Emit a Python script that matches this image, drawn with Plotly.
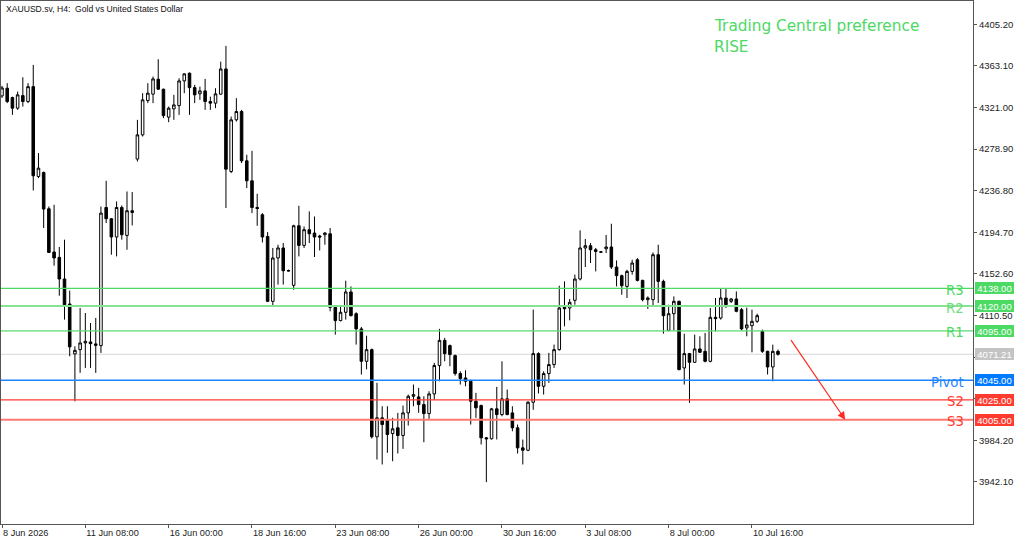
import plotly.graph_objects as go

# ---------------- data ----------------
TITLE = "XAUUSD.sv, H4:  Gold vs United States Dollar"
OPEN = [4332.7, 4340.5, 4331.0, 4320.3, 4333.0, 4327.0, 4342.1, 4251.2, 4255.2, 4218.5,
        4174.7, 4169.3, 4147.4, 4122.1, 4071.6, 4075.9, 4082.7, 4083.7, 4081.7, 4080.0,
        4219.8, 4208.4, 4189.9, 4219.8, 4191.5, 4216.5, 4268.8, 4293.3, 4328.0, 4334.5,
        4349.6, 4339.5, 4311.2, 4319.6, 4322.9, 4347.9, 4355.7, 4341.1, 4334.8, 4337.8,
        4327.0, 4325.4, 4334.5, 4360.0, 4256.2, 4308.5, 4316.9, 4267.0, 4246.8, 4219.8,
        4212.4, 4190.5, 4124.8, 4168.7, 4178.8, 4155.9, 4141.0, 4201.3, 4181.4, 4197.3,
        4193.9, 4190.9, 4192.2, 4193.2, 4118.7, 4105.3, 4113.7, 4134.3, 4112.3, 4096.9,
        4064.1, 4075.9, 3987.7, 4006.9, 4005.2, 3991.0, 3996.8, 3989.0, 4011.9, 4028.7,
        4028.1, 4020.3, 4011.2, 4031.1, 4059.8, 4085.3, 4080.0, 4069.9, 4051.7, 4047.3,
        4043.9, 4023.7, 4019.3, 3986.7, 3985.7, 4016.0, 4010.2, 4026.1, 4011.9, 3996.8,
        3976.5, 3974.1, 4022.7, 4071.9, 4038.8, 4051.7, 4060.8, 4075.9, 4118.7, 4118.1,
        4125.8, 4147.4, 4178.8, 4181.1, 4177.0, 4174.9, 4178.0, 4179.8, 4159.5, 4150.8,
        4139.9, 4155.1, 4166.9, 4146.0, 4126.5, 4126.5, 4172.0, 4145.0, 4095.4, 4112.3,
        4124.8, 4057.4, 4071.9, 4063.1, 4076.6, 4074.2, 4064.1, 4108.6, 4107.9, 4128.2,
        4124.8, 4127.2, 4116.4, 4097.9, 4100.2, 4104.6, 4094.4, 4074.2, 4058.4, 4074.2]
HIGH = [4342.9, 4345.6, 4332.0, 4337.1, 4351.6, 4345.6, 4364.1, 4274.8, 4256.2, 4220.8,
        4222.5, 4179.8, 4187.2, 4135.6, 4079.3, 4118.1, 4113.0, 4102.9, 4108.0, 4220.8,
        4246.8, 4209.1, 4225.9, 4221.8, 4236.0, 4235.4, 4308.5, 4335.5, 4345.6, 4352.3,
        4369.8, 4340.0, 4321.9, 4333.8, 4350.6, 4355.7, 4356.4, 4343.9, 4342.1, 4349.9,
        4332.0, 4340.5, 4367.4, 4383.3, 4311.8, 4330.4, 4318.6, 4273.1, 4277.1, 4233.7,
        4214.1, 4194.9, 4178.8, 4182.1, 4183.8, 4157.0, 4202.3, 4221.5, 4200.6, 4215.8,
        4210.7, 4192.2, 4194.9, 4199.0, 4119.7, 4119.7, 4145.7, 4139.9, 4113.7, 4098.9,
        4090.0, 4077.0, 4042.3, 4018.6, 4018.6, 4006.9, 4011.9, 4019.3, 4030.4, 4040.6,
        4037.2, 4028.7, 4033.8, 4062.5, 4096.9, 4087.8, 4081.0, 4070.9, 4054.0, 4055.0,
        4045.6, 4032.2, 4020.3, 3987.5, 4017.0, 4038.2, 4064.1, 4035.5, 4018.6, 4000.1,
        3984.9, 4023.7, 4116.4, 4073.2, 4054.0, 4072.6, 4081.0, 4140.6, 4145.0, 4127.2,
        4151.8, 4196.6, 4187.9, 4183.8, 4178.8, 4175.2, 4192.0, 4203.3, 4166.2, 4151.8,
        4156.8, 4166.9, 4168.6, 4146.7, 4129.8, 4174.3, 4182.1, 4146.7, 4121.4, 4129.8,
        4125.5, 4092.1, 4072.6, 4091.1, 4089.4, 4092.8, 4118.1, 4128.2, 4138.3, 4138.3,
        4128.2, 4134.9, 4118.1, 4118.4, 4116.4, 4112.3, 4096.2, 4074.8, 4081.0, 4076.0]
LOW = [4330.7, 4325.4, 4313.5, 4318.6, 4321.9, 4325.4, 4237.0, 4249.5, 4199.0, 4173.7,
       4160.9, 4130.5, 4106.3, 4069.2, 4023.7, 4052.4, 4057.4, 4057.4, 4052.4, 4072.6,
       4204.0, 4172.0, 4170.3, 4187.2, 4177.0, 4201.6, 4266.3, 4291.6, 4325.4, 4325.4,
       4338.8, 4310.2, 4306.1, 4308.5, 4313.5, 4335.5, 4313.5, 4325.4, 4328.7, 4318.6,
       4318.6, 4320.3, 4333.8, 4219.2, 4254.6, 4306.8, 4264.7, 4239.4, 4214.1, 4201.3,
       4184.4, 4124.0, 4120.7, 4141.7, 4141.7, 4155.0, 4136.6, 4170.3, 4178.8, 4183.8,
       4169.7, 4176.3, 4182.1, 4114.7, 4091.1, 4104.6, 4106.3, 4109.6, 4081.0, 4050.7,
       4056.0, 3986.0, 3964.7, 3959.7, 3971.5, 3963.0, 3970.8, 3975.5, 3999.1, 4018.6,
       4011.9, 3982.2, 4005.9, 4025.4, 4043.9, 4064.1, 4059.1, 4049.6, 4040.6, 4038.8,
       4000.1, 4006.9, 3979.9, 3941.8, 3985.0, 3985.0, 4008.5, 4009.5, 3993.3, 3970.8,
       3959.7, 3973.1, 4015.0, 4031.5, 4030.4, 4042.3, 4057.4, 4075.0, 4099.5, 4105.6,
       4121.4, 4146.0, 4159.5, 4163.6, 4155.1, 4174.3, 4173.7, 4157.5, 4139.9, 4131.5,
       4128.2, 4151.8, 4145.0, 4124.8, 4117.1, 4119.7, 4123.1, 4092.1, 4094.5, 4095.4,
       4055.0, 4040.6, 4022.0, 4062.5, 4072.6, 4063.1, 4063.1, 4094.4, 4106.3, 4118.1,
       4123.1, 4113.7, 4095.4, 4089.4, 4073.2, 4103.0, 4072.6, 4050.7, 4043.9, 4069.9]
CLOSE = [4340.8, 4327.0, 4320.3, 4333.8, 4327.0, 4342.1, 4251.9, 4259.6, 4218.2, 4174.3,
         4168.7, 4147.4, 4121.4, 4078.7, 4075.2, 4082.7, 4084.3, 4082.0, 4080.3, 4214.1,
         4208.4, 4189.9, 4219.8, 4192.2, 4216.5, 4214.8, 4293.3, 4328.7, 4335.5, 4349.9,
         4339.5, 4312.8, 4320.3, 4323.6, 4347.9, 4355.0, 4341.1, 4333.8, 4337.8, 4327.0,
         4325.4, 4334.8, 4360.0, 4258.6, 4308.5, 4316.9, 4267.0, 4246.8, 4219.8, 4218.8,
         4189.9, 4124.8, 4168.7, 4178.8, 4155.8, 4155.6, 4201.3, 4181.4, 4197.3, 4193.2,
         4189.9, 4189.9, 4193.9, 4118.7, 4105.3, 4113.7, 4134.3, 4110.3, 4096.9, 4064.1,
         4075.9, 3987.7, 4006.9, 4000.1, 3990.0, 3995.8, 3989.0, 4011.9, 4028.7, 4030.4,
         4020.3, 4011.2, 4031.1, 4059.8, 4085.3, 4071.9, 4070.9, 4051.7, 4046.6, 4043.9,
         4023.7, 4017.0, 3986.7, 3985.7, 4016.0, 4010.2, 4026.1, 4010.2, 3996.8, 3976.5,
         3974.1, 4022.7, 4071.9, 4038.8, 4051.7, 4060.8, 4075.9, 4118.1, 4117.4, 4123.8,
         4147.4, 4178.8, 4181.1, 4177.0, 4175.3, 4174.6, 4179.8, 4159.5, 4150.8, 4140.6,
         4155.1, 4163.6, 4146.0, 4126.5, 4128.2, 4172.0, 4145.0, 4110.3, 4112.3, 4124.8,
         4055.7, 4071.9, 4063.1, 4076.6, 4073.2, 4064.1, 4108.6, 4107.3, 4128.2, 4121.4,
         4127.2, 4114.7, 4096.9, 4100.9, 4104.6, 4110.3, 4074.2, 4058.4, 4074.2, 4071.21]
BAR_INDEX = list(range(len(OPEN)))

X_TICK_INDEX = [0, 16, 32, 48, 64, 80, 96, 112, 128, 144]
X_TICK_LABELS = ["8 Jun 2026", "11 Jun 08:00", "16 Jun 00:00", "18 Jun 16:00", "23 Jun 08:00",
                 "26 Jun 00:00", "30 Jun 16:00", "3 Jul 08:00", "8 Jul 00:00", "10 Jul 16:00"]
Y_TICKS = [4405.20, 4363.10, 4321.00, 4278.90, 4236.80, 4194.70, 4152.60, 4110.50,
           4068.40, 4026.30, 3984.20, 3942.10]
# tick labels covered by the price tags in the reference are left blank
Y_TICK_LABELS = ["4405.20", "4363.10", "4321.00", "4278.90", "4236.80", "4194.70", "4152.60",
                 "4110.50", "", "", "3984.20", "3942.10"]

LEVEL_NAMES = ["R3", "R2", "R1", "Pivot", "S2", "S3"]
LEVEL_VALUES = [4138.00, 4120.00, 4095.00, 4045.00, 4025.00, 4005.00]
LAST_PRICE = 4071.21

PREFERENCE_TITLE = "Trading Central preference"
PREFERENCE = "RISE"
ARROW_FROM = (151.3, 4087.0)
ARROW_TO = (161.9, 4005.0)

# ---------------- styles ----------------
LEVEL_LINE_COLORS = ["#4CD964", "#86E392", "#5BDA70", "#1E84FF", "#FF3B30", "#FF7A72"]
LEVEL_LINE_WIDTHS = [1.3, 2, 1.3, 1.5, 1.3, 2]
LEVEL_TEXT_COLORS = ["#4CD964", "#6EDB7E", "#4CD964", "#1E84FF", "#FF3B30", "#FF3B30"]
LEVEL_TAG_COLORS = ["#4CD964", "#4CD964", "#4CD964", "#007AFF", "#FF3B30", "#FF3B30"]

PLOT_L, PLOT_R, PLOT_T, PLOT_B = 1, 973, 1, 524.5
W, H = 1024, 543
X_RANGE = [-0.192, 186.44]
Y_RANGE = [3899.45, 4428.76]

fig = go.Figure()
fig.add_trace(go.Candlestick(
    x=BAR_INDEX, open=OPEN, high=HIGH, low=LOW, close=CLOSE,
    increasing=dict(fillcolor="#FFFFFF", line=dict(color="#000000", width=1)),
    decreasing=dict(fillcolor="#000000", line=dict(color="#000000", width=1)),
    whiskerwidth=0, showlegend=False, hoverinfo="skip",
))

# level lines
for name, val, lc, lw in zip(LEVEL_NAMES, LEVEL_VALUES, LEVEL_LINE_COLORS, LEVEL_LINE_WIDTHS):
    fig.add_shape(type="line", xref="paper", x0=0, x1=1, yref="y", y0=val, y1=val,
                  line=dict(color=lc, width=lw), layer="above")
fig.add_shape(type="line", xref="paper", x0=0, x1=1, yref="y", y0=LAST_PRICE, y1=LAST_PRICE,
              line=dict(color="#D6D6D6", width=1), layer="below")

pw = PLOT_R - PLOT_L
ph = PLOT_B - PLOT_T
def px_x(px):
    return (px - PLOT_L) / pw
def px_y(py):
    return (PLOT_B - py) / ph

ann = []
for name, val, tc, tag in zip(LEVEL_NAMES, LEVEL_VALUES, LEVEL_TEXT_COLORS, LEVEL_TAG_COLORS):
    ann.append(dict(text=name, xref="paper", x=px_x(966), xanchor="right", yref="y", y=val,
                    yanchor="middle", yshift=-2, showarrow=False,
                    font=dict(family="DejaVu Sans", size=13.3, color=tc)))
    ann.append(dict(text=f"{val:.2f}", xref="paper", x=px_x(975), xanchor="left", yref="y", y=val,
                    yanchor="middle", showarrow=False, bgcolor=tag, width=39, height=12,
                    borderpad=0, borderwidth=0,
                    font=dict(family="Liberation Sans", size=9.5, color="#FFFFFF")))
ann.append(dict(text=f"{LAST_PRICE:.2f}", xref="paper", x=px_x(975), xanchor="left", yref="y",
                y=LAST_PRICE, yanchor="middle", showarrow=False, bgcolor="#C4C4C4", width=39,
                height=12, borderpad=0, borderwidth=0,
                font=dict(family="Liberation Sans", size=9.5, color="#FFFFFF")))
ann.append(dict(text=TITLE, xref="paper", x=px_x(4), xanchor="left", yref="paper", y=px_y(9),
                yanchor="middle", showarrow=False,
                font=dict(family="Liberation Sans", size=8.6, color="#111111")))
ann.append(dict(text=PREFERENCE_TITLE, xref="paper", x=px_x(712), xanchor="left", yref="paper",
                y=px_y(26), yanchor="middle", showarrow=False,
                font=dict(family="DejaVu Sans", size=15.3, color="#4CD964")))
ann.append(dict(text=PREFERENCE, xref="paper", x=px_x(712), xanchor="left", yref="paper",
                y=px_y(47), yanchor="middle", showarrow=False,
                font=dict(family="DejaVu Sans", size=15.3, color="#4CD964")))
ann.append(dict(text="", x=ARROW_TO[0], y=ARROW_TO[1], xref="x", yref="y",
                ax=ARROW_FROM[0], ay=ARROW_FROM[1], axref="x", ayref="y",
                showarrow=True, arrowhead=2, arrowsize=1.3, arrowwidth=1.2,
                arrowcolor="#FF2A1F"))

fig.update_layout(
    width=W, height=H,
    margin=dict(l=PLOT_L, r=W - PLOT_R, t=PLOT_T, b=H - PLOT_B),
    paper_bgcolor="#FFFFFF", plot_bgcolor="#FFFFFF",
    annotations=ann,
    showlegend=False,
    xaxis=dict(range=X_RANGE, rangeslider=dict(visible=False), showgrid=False, zeroline=False,
               tickmode="array", tickvals=X_TICK_INDEX, ticktext=X_TICK_LABELS,
               ticks="outside", ticklen=3, tickcolor="#555555",
               ticklabelposition="outside right",
               tickfont=dict(family="Liberation Sans", size=9.2, color="#222222"),
               showline=True, linecolor="#555555", linewidth=1, mirror=True),
    yaxis=dict(range=Y_RANGE, side="right", showgrid=False, zeroline=False,
               tickmode="array", tickvals=Y_TICKS, ticktext=Y_TICK_LABELS,
               ticks="outside", ticklen=3, tickcolor="#555555",
               tickfont=dict(family="Liberation Sans", size=9.5, color="#222222"),
               showline=True, linecolor="#555555", linewidth=1, mirror=True),
)

fig.write_html("out.html")
